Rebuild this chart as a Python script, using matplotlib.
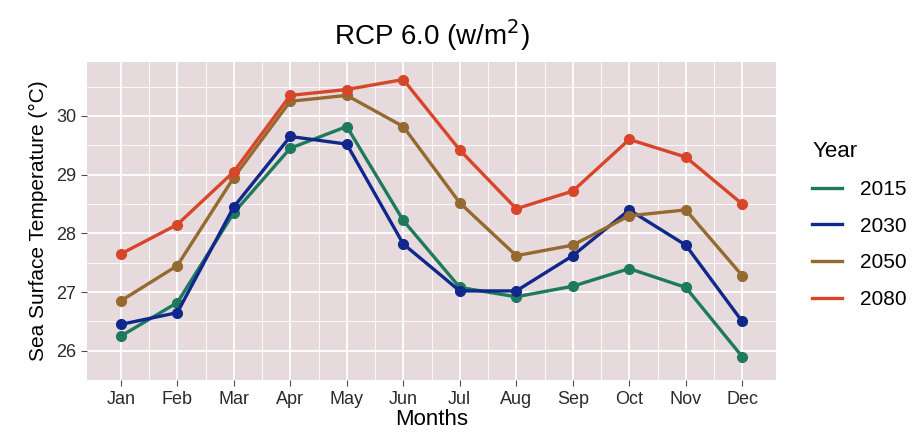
import numpy as np
import matplotlib
matplotlib.use("Agg")
import matplotlib.pyplot as plt

plt.rcParams["font.family"] = ["Liberation Sans", "DejaVu Sans"]

months = ["Jan", "Feb", "Mar", "Apr", "May", "Jun",
          "Jul", "Aug", "Sep", "Oct", "Nov", "Dec"]
years = ["2015", "2030", "2050", "2080"]

sst_2015 = [26.25, 26.82, 28.35, 29.45, 29.82, 28.22, 27.08, 26.92, 27.10, 27.40, 27.08, 25.90]
sst_2030 = [26.45, 26.65, 28.45, 29.65, 29.52, 27.82, 27.02, 27.02, 27.62, 28.40, 27.80, 26.50]
sst_2050 = [26.85, 27.45, 28.95, 30.25, 30.35, 29.82, 28.52, 27.62, 27.80, 28.30, 28.40, 27.28]
sst_2080 = [27.65, 28.15, 29.05, 30.35, 30.45, 30.62, 29.42, 28.42, 28.72, 29.60, 29.30, 28.50]

series = [sst_2015, sst_2030, sst_2050, sst_2080]
colors = ["#1e7a5c", "#10288c", "#946a30", "#d8462a"]

fig = plt.figure(figsize=(9.24, 4.36), dpi=100)
ax = fig.add_axes([0.094, 0.128, 0.746, 0.730])
ax.set_facecolor("#e6dadd")

x = np.arange(1, 13)
for vals, yr, c in zip(series, years, colors):
    ax.plot(x, vals, color=c, lw=2.4, marker="o", ms=7, label=yr, zorder=3)

ax.set_xlim(0.4, 12.6)
ax.set_ylim(25.69, 30.92)
ax.set_xticks(x)
ax.set_xticklabels(months)
ax.set_yticks([26, 27, 28, 29, 30])
ax.set_xticks(np.arange(1.5, 12, 1), minor=True)
ax.set_yticks(np.arange(25.5, 31, 1), minor=True)

ax.grid(which="major", color="white", lw=1.3)
ax.grid(which="minor", color="white", lw=0.6)
ax.set_axisbelow(True)
for s in ax.spines.values():
    s.set_visible(False)
ax.tick_params(which="major", colors="#4d4d4d", labelsize=13, length=4)
ax.tick_params(which="minor", length=0)
for lbl in ax.get_xticklabels() + ax.get_yticklabels():
    lbl.set_color("#2b2b2b")

ax.set_xlabel("Months", fontsize=16, labelpad=1)
ax.set_ylabel("Sea Surface Temperature (°C)", fontsize=15, labelpad=6)
ax.set_title("RCP 6.0 (w/m$^2$)", fontsize=20, pad=12)

leg = ax.legend(title="Year", loc="upper left", bbox_to_anchor=(0.868, 0.70),
                bbox_transform=fig.transFigure, frameon=False, fontsize=15,
                title_fontsize=16, handlelength=1.4, labelspacing=0.85,
                handletextpad=0.9, borderpad=0, markerscale=0)
leg._legend_box.align = "left"
for h in leg.legend_handles:
    h.set_marker("")

fig.savefig("out.png", dpi=100)
